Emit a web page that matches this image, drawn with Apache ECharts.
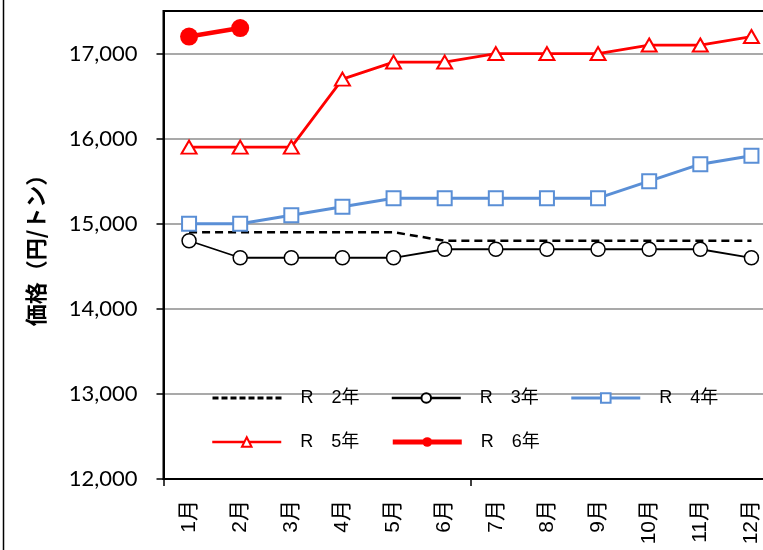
<!DOCTYPE html>
<html><head><meta charset="utf-8">
<script src="https://cdn.jsdelivr.net/npm/echarts@6/dist/echarts.min.js"></script>
<style>html,body{margin:0;padding:0;background:#fff;overflow:hidden;width:763px;height:550px}#c{width:777px;height:550px}</style>
</head><body><div id="c"></div>
<script>
const months = ['1月','2月','3月','4月','5月','6月','7月','8月','9月','10月','11月','12月'];
const yTicks = [12000, 13000, 14000, 15000, 16000, 17000];
const seriesNames = ['R　2年','R　3年','R　4年','R　5年','R　6年'];
const r2 = [14900,14900,14900,14900,14900,14800,14800,14800,14800,14800,14800,14800];
const r3 = [14800,14600,14600,14600,14600,14700,14700,14700,14700,14700,14700,14600];
const r4 = [15000,15000,15100,15200,15300,15300,15300,15300,15300,15500,15700,15800];
const r5 = [15900,15900,15900,16700,16900,16900,17000,17000,17000,17100,17100,17200];
const r6 = [17200,17300];

const chart = echarts.init(document.getElementById('c'));
const legendText = {color:'#000', fontSize:18, fontFamily:'Liberation Sans, Noto Sans CJK JP', padding:[0,0,0,14]};
const legendBase = {padding:0, itemWidth:69, itemHeight:12, itemGap:31, textStyle:legendText, left:211};
chart.setOption({
  animation:false,
  backgroundColor:'#fff',
  graphic:[{type:'line', shape:{x1:3.5,y1:0,x2:3.5,y2:550}, style:{stroke:'#000', lineWidth:1.5}}],
  grid:{left:163.5, top:11, right:0, bottom:71, show:true, borderColor:'#000', borderWidth:2},
  legend:[
    Object.assign({}, legendBase, {top:389, data:[
      {name:seriesNames[0], itemStyle:{opacity:0}, lineStyle:{width:3, type:[6,3]}},
      {name:seriesNames[1], lineStyle:{width:2.5}},
      {name:seriesNames[2], lineStyle:{width:3}}
    ]}),
    Object.assign({}, legendBase, {top:433, data:[
      {name:seriesNames[3], lineStyle:{width:2.5}},
      {name:seriesNames[4], lineStyle:{width:5}}
    ]})
  ],
  xAxis:{
    type:'category', data:months, boundaryGap:true,
    axisLine:{lineStyle:{color:'#000', width:2}},
    axisTick:{show:true, interval:function(i){return i % 6 === 0;}, length:7, lineStyle:{color:'#000', width:1.5}},
    axisLabel:{interval:0, rotate:90, margin:21, color:'#000', fontSize:21, fontFamily:'Liberation Sans, Noto Sans CJK JP'},
    splitLine:{show:false}
  },
  yAxis:{
    type:'value', min:12000, max:17500, interval:1000,
    name:'価格（円/トン）', nameLocation:'middle', nameGap:117,
    nameTextStyle:{color:'#000', fontSize:22, fontWeight:'bold', fontFamily:'Noto Sans CJK JP'},
    axisLine:{show:true, lineStyle:{color:'#000', width:2}},
    axisTick:{show:true, length:7, customValues:yTicks, lineStyle:{color:'#000', width:1.5}},
    axisLabel:{customValues:yTicks, margin:26, color:'#000', fontSize:22, fontFamily:'Lato, Liberation Sans'},
    splitLine:{show:true, lineStyle:{color:'#8c8c8c', width:1.5}}
  },
  series:[
    {name:seriesNames[0], type:'line', data:r2, symbol:'none', lineStyle:{color:'#000', width:2.5, type:[8,5]}, itemStyle:{color:'#000'}, z:2},
    {name:seriesNames[1], type:'line', data:r3, symbol:'circle', symbolSize:14, showSymbol:true,
      lineStyle:{color:'#000', width:1.8}, itemStyle:{color:'#fff', borderColor:'#000', borderWidth:1.5}, z:3},
    {name:seriesNames[2], type:'line', data:r4, symbol:'rect', symbolSize:14,
      lineStyle:{color:'#5a8fd6', width:3}, itemStyle:{color:'#fff', borderColor:'#5a8fd6', borderWidth:2}, z:4},
    {name:seriesNames[3], type:'line', data:r5, symbol:'triangle', symbolSize:[15,13],
      lineStyle:{color:'#ff0000', width:2.8}, itemStyle:{color:'#fff', borderColor:'#ff0000', borderWidth:2}, z:5},
    {name:seriesNames[4], type:'line', data:r6, symbol:'circle', symbolSize:18,
      lineStyle:{color:'#ff0000', width:4.5}, itemStyle:{color:'#ff0000'}, z:6}
  ]
});
</script></body></html>
